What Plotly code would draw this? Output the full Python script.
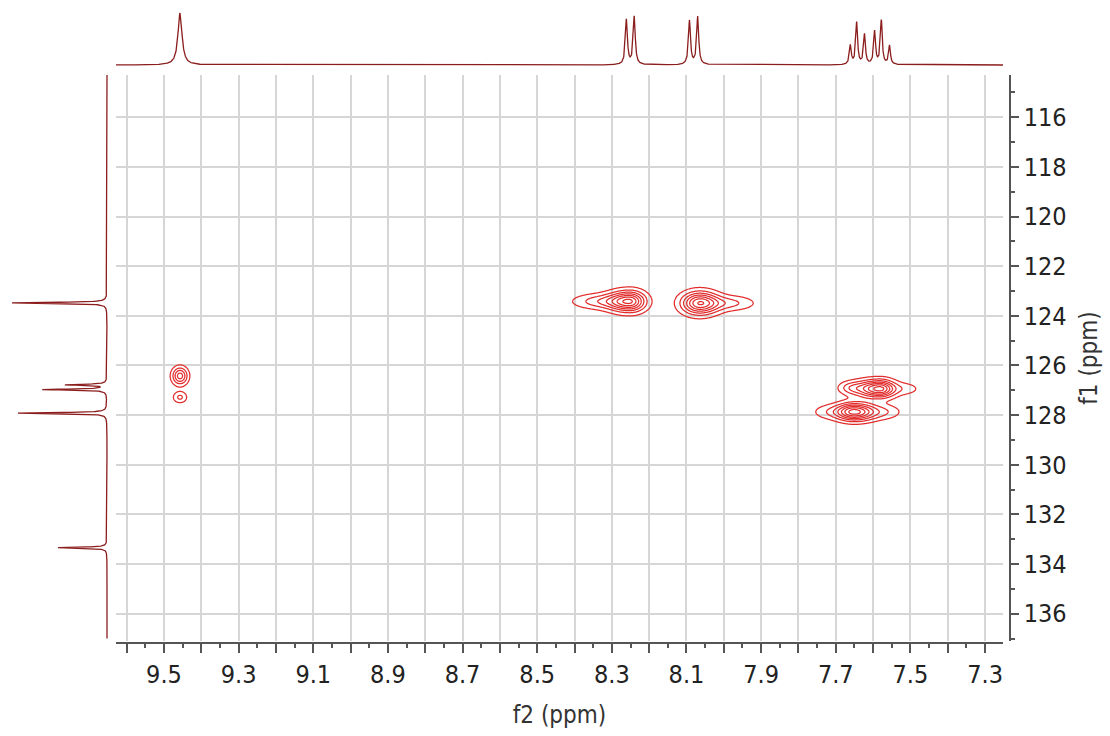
import numpy as np
import plotly.graph_objects as go

# ---------------- data ----------------
# 1H projection (top trace): positions (ppm), heights (arb.), line widths (ppm)
h_ppm = [9.457, 8.261, 8.240, 8.092, 8.070, 7.661, 7.644, 7.623, 7.596, 7.578, 7.556]
h_height = [52, 45, 48, 44, 48, 19, 42, 30, 33, 44, 19]
h_width = [0.013, 0.0065, 0.0065, 0.0065, 0.0065, 0.006, 0.006, 0.006, 0.006, 0.006, 0.006]

# 13C projection (left trace)
c_ppm = [123.48, 126.78, 126.97, 127.92, 133.34]
c_height = [95, 41, 64, 89, 49]
c_width = [0.05, 0.05, 0.05, 0.05, 0.05]

# HSQC cross-peak components: f2 (ppm), f1 (ppm), amplitude, f2 width left/right, f1 width
xp_group1 = dict(f2=[9.457, 9.457], f1=[126.42, 127.28], amp=[0.65, 0.30],
                 wl=[0.0140, 0.0125], wr=[0.0140, 0.0125], wy=[0.235, 0.155])
xp_group2 = dict(f2=[8.252, 8.332, 8.065, 7.985], f1=[123.42, 123.42, 123.49, 123.49],
                 amp=[1.0, 0.35, 1.0, 0.30],
                 wl=[0.0375, 0.048, 0.0321, 0.045], wr=[0.0281, 0.048, 0.034, 0.045],
                 wy=[0.278, 0.20, 0.300, 0.20])
xp_group3 = dict(f2=[7.583, 7.516, 7.660, 7.650, 7.717, 7.570],
                 f1=[126.94, 126.94, 126.90, 127.87, 127.87, 127.87],
                 amp=[1.1, 0.18, 0.26, 1.1, 0.20, 0.22],
                 wl=[0.042, 0.030, 0.022, 0.032, 0.032, 0.032],
                 wr=[0.027, 0.030, 0.022, 0.037, 0.032, 0.032],
                 wy=[0.234, 0.18, 0.17, 0.234, 0.20, 0.20])

x_tick_vals = [9.6, 9.5, 9.4, 9.3, 9.2, 9.1, 9.0, 8.9, 8.8, 8.7, 8.6, 8.5, 8.4, 8.3, 8.2, 8.1,
               8.0, 7.9, 7.8, 7.7, 7.6, 7.5, 7.4, 7.3]
x_tick_text = ["", "9.5", "", "9.3", "", "9.1", "", "8.9", "", "8.7", "", "8.5", "", "8.3", "",
               "8.1", "", "7.9", "", "7.7", "", "7.5", "", "7.3"]
y_tick_vals = [116, 118, 120, 122, 124, 126, 128, 130, 132, 134, 136]
y_tick_text = ["116", "118", "120", "122", "124", "126", "128", "130", "132", "134", "136"]

X_RANGE = [9.6285, 7.252]
Y_RANGE = [137.1, 114.3]

# ---------------- build traces ----------------
def lorentz_sum(axis, pos, hgt, wid):
    out = np.zeros_like(axis)
    for p, h, w in zip(pos, hgt, wid):
        out += h / (1.0 + ((axis - p) / (w / 2.0)) ** 2)
    return out

hx = np.arange(X_RANGE[1], X_RANGE[0], 0.0005)
hy = lorentz_sum(hx, h_ppm, h_height, h_width)

cy = np.arange(Y_RANGE[1], 137.0, 0.005)
cx = lorentz_sum(cy, c_ppm, c_height, c_width)


def cross_grid(g, xlo, xhi, ylo, yhi):
    gx = np.arange(xlo, xhi, 0.002)
    gy = np.arange(ylo, yhi, 0.02)
    X, Y = np.meshgrid(gx, gy)
    Z = np.zeros_like(X)
    for f2, f1, a, wl, wr, wy in zip(g["f2"], g["f1"], g["amp"], g["wl"], g["wr"], g["wy"]):
        sx = np.where(X > f2, wl, wr)
        Z += a * np.exp(-0.5 * ((X - f2) / sx) ** 2 - 0.5 * ((Y - f1) / wy) ** 2)
    return gx, gy, np.round(Z, 4)

RED = "rgb(226,45,45)"
DARKRED = "#8b1d1d"

fig = go.Figure()

for g, box in [(xp_group1, (9.36, 9.56, 125.5, 128.3)),
               (xp_group2, (7.82, 8.50, 122.2, 124.7)),
               (xp_group3, (7.40, 7.90, 125.6, 129.2))]:
    gx, gy, Z = cross_grid(g, *box)
    fig.add_trace(go.Contour(
        x=gx, y=gy, z=Z, xaxis="x", yaxis="y",
        contours=dict(coloring="lines", start=0.11, end=1.6, size=0.155),
        colorscale=[[0, RED], [1, RED]], showscale=False,
        line=dict(width=1.25, smoothing=1), hoverinfo="skip"))

fig.add_trace(go.Scatter(x=hx, y=hy, mode="lines", xaxis="x2", yaxis="y2",
                         line=dict(color=DARKRED, width=1.3), hoverinfo="skip"))
fig.add_trace(go.Scatter(x=cx, y=cy, mode="lines", xaxis="x3", yaxis="y3",
                         line=dict(color=DARKRED, width=1.3), hoverinfo="skip"))

W, H = 1110, 736
FONT = "DejaVu Sans Condensed, DejaVu Sans, sans-serif"
x_dom = [116 / W, 1003 / W]
y_dom = [1 - 641 / H, 1 - 75 / H]

x_minor = [round(v + 0.05, 2) for v in x_tick_vals]
y_minor = [v + 1 for v in y_tick_vals] + [115]

fig.update_layout(
    width=W, height=H, margin=dict(l=0, r=0, t=0, b=0),
    paper_bgcolor="white", plot_bgcolor="white", showlegend=False,
    font=dict(family=FONT, color="#222"),
    xaxis=dict(domain=x_dom, range=X_RANGE, anchor="free", position=1 - 643 / H,
               showline=True, linecolor="#555", linewidth=1.5,
               ticks="outside", ticklen=9, tickwidth=1.5, tickcolor="#555",
               tickmode="array", tickvals=x_tick_vals, ticktext=x_tick_text,
               tickfont=dict(size=25, color="#222"),
               showgrid=True, gridcolor="#d6d6d6", gridwidth=1.5, zeroline=False,
               minor=dict(tickmode="array", tickvals=x_minor, ticks="outside", ticklen=4,
                          tickwidth=1.5, tickcolor="#555", showgrid=False),
               title=dict(text="f2 (ppm)", font=dict(size=24, color="#333"), standoff=17)),
    yaxis=dict(domain=y_dom, range=Y_RANGE, anchor="free", position=1010 / W, side="right",
               showline=True, linecolor="#555", linewidth=1.5,
               ticks="outside", ticklen=8, tickwidth=1.5, tickcolor="#555",
               tickmode="array", tickvals=y_tick_vals, ticktext=y_tick_text,
               tickfont=dict(size=25, color="#222"),
               showgrid=True, gridcolor="#d6d6d6", gridwidth=1.5, zeroline=False,
               minor=dict(tickmode="array", tickvals=y_minor, ticks="outside", ticklen=4,
                          tickwidth=1.5, tickcolor="#555", showgrid=False),
               title=dict(text="f1 (ppm)", font=dict(size=24, color="#333"), standoff=14)),
    xaxis2=dict(domain=x_dom, range=X_RANGE, anchor="y2", visible=False),
    yaxis2=dict(domain=[1 - 70 / H, 1 - 8 / H], range=[-5, 57], anchor="x2", visible=False),
    xaxis3=dict(domain=[5 / W, 110 / W], range=[102, -3], anchor="y3", visible=False),
    yaxis3=dict(domain=y_dom, range=Y_RANGE, anchor="x3", visible=False),
)

fig.write_html("out.html")
